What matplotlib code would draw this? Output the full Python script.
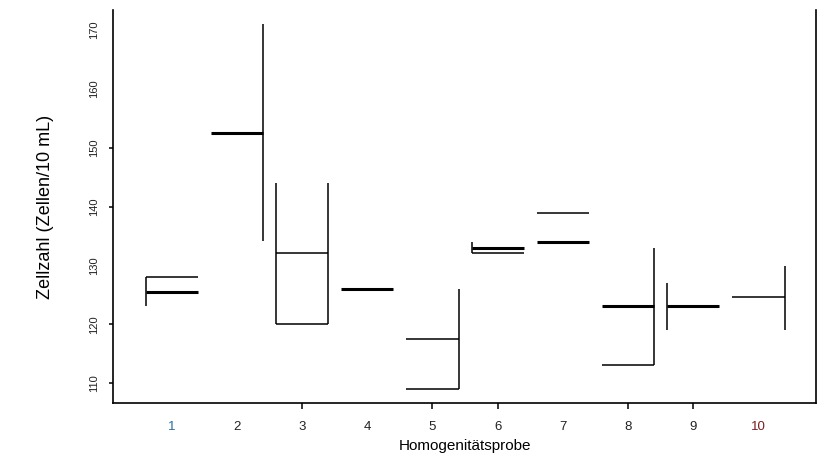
import matplotlib.pyplot as plt

plt.rcParams["font.family"] = ["Liberation Sans", "DejaVu Sans"]

# thin horizontal lines: sample number and value
thin_x = [1, 3, 3, 5, 5, 6, 7, 8, 10]
thin_y = [128.0, 132.1, 120.1, 117.6, 109.1, 132.1, 139.0, 113.1, 124.65]

# thick horizontal lines
thick_x = [1, 2, 4, 6, 7, 8, 9]
thick_y = [125.45, 152.5, 126.1, 133.0, 134.0, 123.1, 123.1]

# vertical range lines: sample, side (-1 left / +1 right), low, high
vert_x = [1, 2, 3, 3, 5, 6, 8, 9, 10]
vert_side = [-1, 1, -1, 1, 1, -1, 1, -1, 1]
vert_lo = [123.1, 134.2, 120.1, 120.1, 109.1, 132.1, 113.1, 119.0, 119.0]
vert_hi = [128.05, 171.0, 144.0, 144.0, 126.0, 134.0, 132.9, 127.1, 130.0]

samples = list(range(1, 11))
label_colors = ["#2a6d9e"] + ["#222222"] * 8 + ["#7a1f1f"]
half = 0.4

fig = plt.figure(figsize=(8.34, 4.59), dpi=100)
ax = fig.add_axes([0.1355, 0.122, 0.979 - 0.1355, 0.978 - 0.122])

ax.hlines(thin_y, [x - half for x in thin_x], [x + half for x in thin_x],
          color="black", lw=1.1)
ax.hlines(thick_y, [x - half for x in thick_x], [x + half for x in thick_x],
          color="black", lw=2.2)
ax.vlines([x + s * half for x, s in zip(vert_x, vert_side)], vert_lo, vert_hi,
          color="black", lw=1.1)

ax.set_xlim(0.10, 10.89)
ax.set_ylim(106.66, 173.38)

ax.set_xticks(samples)
ax.set_xticklabels([str(s) for s in samples], fontsize=9.5)
for lab, c in zip(ax.get_xticklabels(), label_colors):
    lab.set_color(c)
for s, t in zip(samples, ax.xaxis.get_major_ticks()):
    if s not in (3, 5, 6, 8, 9):
        t.tick1line.set_visible(False)

yt = [110, 120, 130, 140, 150, 160, 170]
ax.set_yticks(yt)
ax.set_yticklabels([str(v) for v in yt], rotation=90, va="center", fontsize=8,
                   color="#222222")
for v, t in zip(yt, ax.yaxis.get_major_ticks()):
    if v not in (110, 120, 140, 150):
        t.tick1line.set_visible(False)

ax.tick_params(axis="x", length=4, width=1.1, pad=9)
ax.tick_params(axis="y", length=3, width=1.1, pad=7)

ax.spines["top"].set_visible(False)
for sp in ["left", "bottom", "right"]:
    ax.spines[sp].set_linewidth(1.2)

ax.set_xlabel("Homogenitätsprobe", fontsize=11, labelpad=4)
ax.set_ylabel("Zellzahl (Zellen/10 mL)", fontsize=13, labelpad=25)

fig.savefig("out.png", dpi=100)
